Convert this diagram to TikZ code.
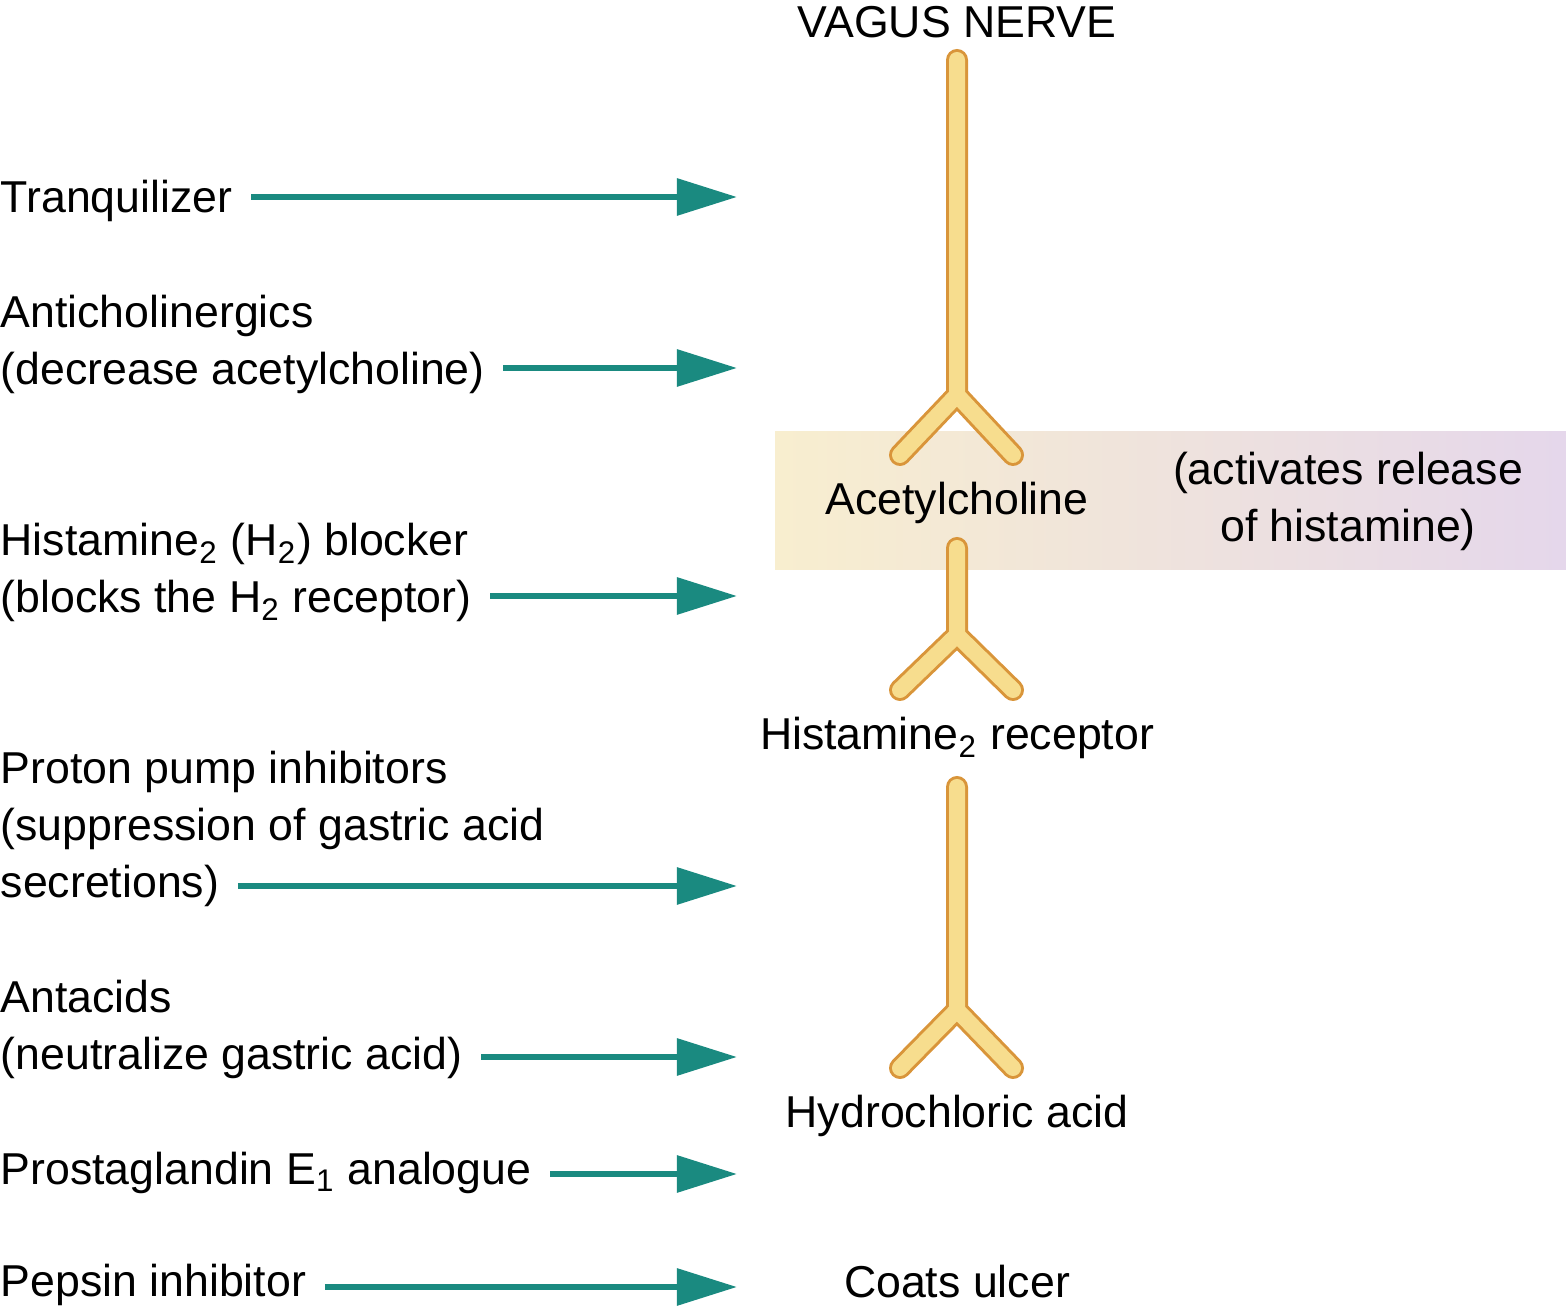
\documentclass[tikz,border=0pt]{standalone}
\usepackage{fontspec}
\setmainfont{Liberation Sans}
\usetikzlibrary{arrows.meta,positioning}
\definecolor{teal}{HTML}{1A8A80}
\definecolor{nervo}{HTML}{D9953A}
\definecolor{nervy}{HTML}{F7DD8E}
\definecolor{bandl}{HTML}{F8EECF}
\definecolor{bandr}{HTML}{E5D7EB}
\begin{document}
\begin{tikzpicture}[x=0.01cm, y=-0.01cm,
every node/.style={font=\fontsize{12.7}{16}\selectfont, inner sep=0pt},
lbl/.style={anchor=base west},
mid/.style={anchor=base},
drug/.style={-{Triangle[length=0.6cm,width=0.36cm]}, teal, line width=0.06cm},
nerveout/.style={nervo, line width=0.22cm, line cap=round, line join=round},
nervein/.style={nervy, line width=0.16cm, line cap=round, line join=round}]
\useasboundingbox (0,0) rectangle (1566,1310);
% band
\shade[left color=bandl, right color=bandr] (775,432) rectangle (1566,570);
% nerves
\foreach \t/\f/\e in {60/395/455, 548/635/690, 787/1010/1068}{
  \draw[nerveout] (957,\t) -- (957,\f) -- (900,\e);
  \draw[nerveout] (957,\f) -- (1013,\e);
  \draw[nervein] (957,\t) -- (957,\f) -- (900,\e);
  \draw[nervein] (957,\f) -- (1013,\e);
}
% right labels
\node[mid] (vagus) at (957,38) {VAGUS NERVE};
\node[mid] (ach) at (957,515) {Acetylcholine};
\node[mid] (act1) at (1348,485) {(activates release};
\node[mid] (act2) at (1348,542) {of histamine)};
\node[mid] (h2r) at (957,750) {Histamine\textsubscript{2} receptor};
\node[mid] (hcl) at (957,1128) {Hydrochloric acid};
\node[mid] (coats) at (957,1298) {Coats ulcer};
% left labels
\node[lbl] (tq) at (0,213) {Tranquilizer};
\node[lbl] (anti1) at (0,328) {Anticholinergics};
\node[lbl] (anti2) at (0,385) {(decrease acetylcholine)};
\node[lbl] (hb1) at (0,556) {Histamine\textsubscript{2} (H\textsubscript{2}) blocker};
\node[lbl] (hb2) at (0,613) {(blocks the H\textsubscript{2} receptor)};
\node[lbl] (pp1) at (0,784) {Proton pump inhibitors};
\node[lbl] (pp2) at (0,841) {(suppression of gastric acid};
\node[lbl] (pp3) at (0,898) {secretions)};
\node[lbl] (ant1) at (0,1013) {Antacids};
\node[lbl] (ant2) at (0,1070) {(neutralize gastric acid)};
\node[lbl] (pg) at (0,1185) {Prostaglandin E\textsubscript{1} analogue};
\node[lbl] (pep) at (0,1297) {Pepsin inhibitor};
% arrows
\foreach \n/\y in {tq/197, anti2/368, hb2/596, pp3/886, ant2/1057, pg/1174, pep/1287}{
  \coordinate (\n s) at ([xshift=0.18cm]\n.east |- 0,\y);
  \coordinate (\n t) at (737,\y);
  \draw[drug] (\n s) -- (\n t);
}
\end{tikzpicture}
\end{document}
